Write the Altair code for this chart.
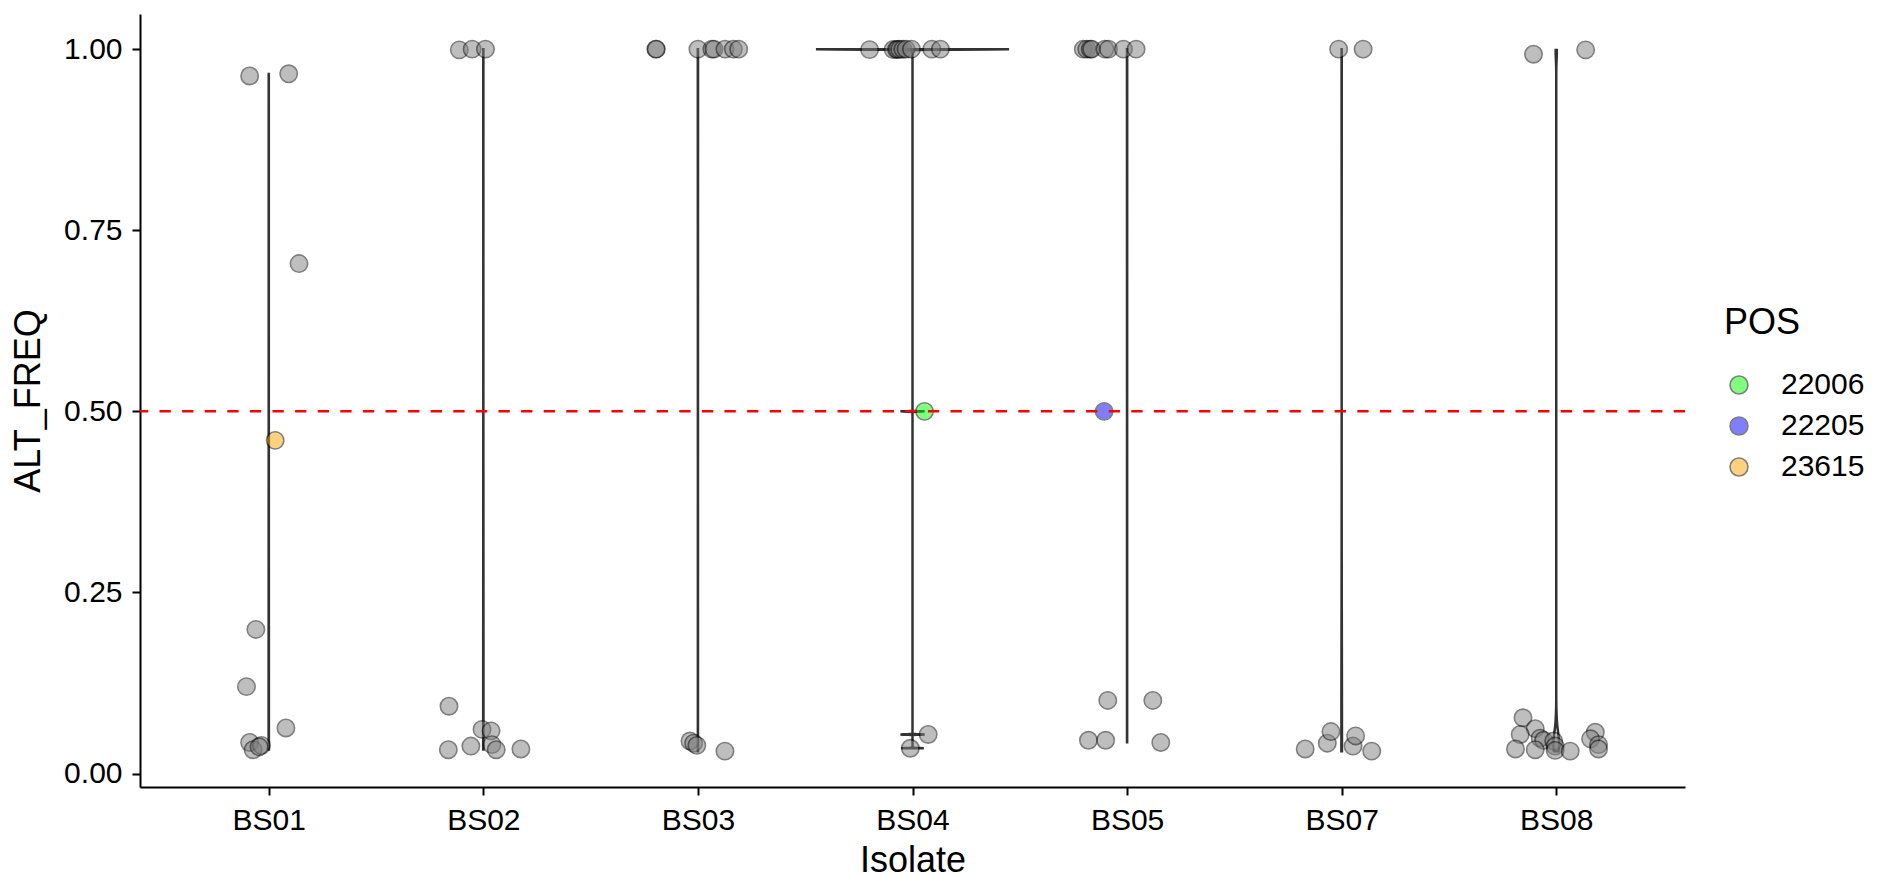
import altair as alt
import pandas as pd

isolates = ["BS01", "BS02", "BS03", "BS04", "BS05", "BS07", "BS08"]

# ALT_FREQ values, horizontal jitter (category units) and POS per isolate
bs01_freq = [0.963, 0.966, 0.704, 0.460, 0.199, 0.120, 0.063, 0.043, 0.033, 0.039, 0.037]
bs01_jit = [-0.089, 0.093, 0.141, 0.030, -0.060, -0.104, 0.080, -0.089, -0.073, -0.034, -0.045]
bs01_pos = [None, None, None, "23615", None, None, None, None, None, None, None]

bs02_freq = [0.999, 1.0, 1.0, 0.093, 0.061, 0.059, 0.038, 0.033, 0.040, 0.033, 0.034]
bs02_jit = [-0.112, -0.052, 0.010, -0.160, -0.006, 0.036, -0.058, -0.163, 0.040, 0.060, 0.175]
bs02_pos = [None] * 11

bs03_freq = [1.0, 1.0, 1.0, 1.0, 1.0, 1.0, 1.0, 1.0, 0.045, 0.042, 0.039, 0.031]
bs03_jit = [-0.196, -0.194, 0.000, 0.065, 0.075, 0.126, 0.165, 0.190, -0.037, -0.020, -0.005, 0.126]
bs03_pos = [None] * 12

bs04_freq = [0.9993, 0.9995, 0.9996, 0.9997, 0.9998, 0.9999, 1.0, 1.0, 1.0, 1.0, 0.500, 0.054, 0.035]
bs04_jit = [-0.200, -0.090, -0.075, -0.070, -0.060, -0.045, -0.030, -0.005, 0.090, 0.130, 0.056, 0.073, -0.010]
bs04_pos = [None] * 10 + ["22006", None, None]

bs05_freq = [1.0, 1.0, 1.0, 1.0, 1.0, 1.0, 1.0, 1.0, 0.500, 0.101, 0.101, 0.046, 0.046, 0.043]
bs05_jit = [-0.204, -0.188, -0.172, -0.165, -0.103, -0.087, -0.017, 0.042, -0.107, -0.090, 0.120, -0.180, -0.100, 0.157]
bs05_pos = [None] * 8 + ["22205"] + [None] * 5

bs07_freq = [1.0, 1.0, 0.034, 0.042, 0.058, 0.038, 0.052, 0.031]
bs07_jit = [-0.014, 0.100, -0.170, -0.067, -0.050, 0.053, 0.065, 0.140]
bs07_pos = [None] * 8

bs08_freq = [0.993, 0.999, 0.077, 0.062, 0.054, 0.049, 0.046, 0.045, 0.038, 0.034, 0.033,
             0.032, 0.031, 0.057, 0.048, 0.040, 0.034]
bs08_jit = [-0.106, 0.137, -0.155, -0.098, -0.168, -0.075, -0.059, -0.012, -0.005, -0.190, -0.098,
            -0.005, 0.065, 0.182, 0.160, 0.197, 0.197]
bs08_pos = [None] * 17

pos_levels = ["22006", "22205", "23615"]
pos_colors = ["#00ff00", "#0000ff", "#ffa500"]
threshold = [0.5]

groups = {
    "BS01": (bs01_freq, bs01_jit, bs01_pos),
    "BS02": (bs02_freq, bs02_jit, bs02_pos),
    "BS03": (bs03_freq, bs03_jit, bs03_pos),
    "BS04": (bs04_freq, bs04_jit, bs04_pos),
    "BS05": (bs05_freq, bs05_jit, bs05_pos),
    "BS07": (bs07_freq, bs07_jit, bs07_pos),
    "BS08": (bs08_freq, bs08_jit, bs08_pos),
}

rows = []
ext_rows = []
for i, iso in enumerate(isolates):
    f, j, p = groups[iso]
    for a, b, c in zip(f, j, p):
        rows.append({"Isolate": iso, "ALT_FREQ": a, "jitter": b, "POS": c, "idx": i + 1})
    ext_rows.append({"Isolate": iso, "gidx": i + 1, "lo": min(f), "hi": max(f)})
df = pd.DataFrame(rows)

FONT = "Liberation Sans"
xscale = alt.Scale(domain=[0.4, 7.6], nice=False, zero=False)
yscale = alt.Scale(domain=[-0.0185, 1.0485], nice=False, zero=False)
label_expr = "[" + ",".join("'%s'" % s for s in isolates) + "][datum.value - 1]"
xaxis = alt.Axis(values=list(range(1, len(isolates) + 1)), labelExpr=label_expr, title="Isolate",
                 grid=False, labelPadding=10, titlePadding=8)
yaxis = alt.Axis(values=[0, 0.25, 0.5, 0.75, 1.0], format=".2f", title="ALT_FREQ",
                 grid=False, labelPadding=10, titlePadding=16)

violin = (
    alt.Chart(df)
    .transform_density("ALT_FREQ", groupby=["Isolate"], steps=4000, as_=["value", "density"])
    .transform_lookup(lookup="Isolate",
                      from_=alt.LookupData(data=alt.InlineData(values=ext_rows), key="Isolate",
                                           fields=["gidx", "lo", "hi"]))
    .transform_filter("datum.value >= datum.lo - 1e-6 && datum.value <= datum.hi + 1e-6")
    .transform_joinaggregate(maxd="max(density)")
    .transform_calculate(xl="datum.gidx - 0.45 * datum.density / datum.maxd",
                         xr="datum.gidx + 0.45 * datum.density / datum.maxd")
    .mark_area(orient="horizontal", fill="white", stroke="#333333", strokeWidth=2.5)
    .encode(
        y=alt.Y("value:Q", scale=yscale, axis=yaxis),
        x=alt.X("xl:Q", scale=xscale, axis=xaxis),
        x2="xr:Q",
        detail="Isolate:N",
    )
)

points = (
    alt.Chart(df)
    .transform_calculate(xpos="datum.idx + datum.jitter")
    .mark_circle(size=300, opacity=0.5, stroke="black", strokeWidth=1.6)
    .encode(
        x=alt.X("xpos:Q", scale=xscale, axis=xaxis),
        y=alt.Y("ALT_FREQ:Q", scale=yscale, axis=yaxis),
        fill=alt.condition(
            "isValid(datum.POS)",
            alt.Fill("POS:N", scale=alt.Scale(domain=pos_levels, range=pos_colors),
                     legend=alt.Legend(title="POS", orient="none", legendX=1584, legendY=292,
                                       symbolType="circle", symbolSize=320,
                                       symbolStrokeColor="black", symbolStrokeWidth=1.6,
                                       symbolOpacity=0.5, symbolOffset=0,
                                       rowPadding=11, titlePadding=28, labelOffset=27)),
            alt.value("#7f7f7f"),
        ),
    )
)

rule = (
    alt.Chart(pd.DataFrame({"thr": threshold}))
    .mark_rule(color="red", strokeDash=[11.3, 11.3], strokeWidth=2.5)
    .encode(y=alt.Y("thr:Q", scale=yscale, axis=yaxis))
)

chart = (
    alt.layer(violin, points, rule)
    .properties(width=1545, height=773,
                autosize=alt.AutoSizeParams(type="none"),
                padding={"left": 132, "top": 6, "right": 185, "bottom": 88})
    .configure_view(stroke=None)
    .configure_axis(domainColor="black", domainWidth=2, tickColor="black", tickWidth=2, tickSize=8,
                    labelFont=FONT, labelFontSize=30, labelColor="black",
                    titleFont=FONT, titleFontSize=36, titleFontWeight="normal", titleColor="black")
    .configure_legend(titleFont=FONT, titleFontSize=36, titleFontWeight="normal", titleColor="black",
                      labelFont=FONT, labelFontSize=30, labelColor="black")
)

chart.save("out.html", embed_options={"renderer": "svg", "actions": False})
